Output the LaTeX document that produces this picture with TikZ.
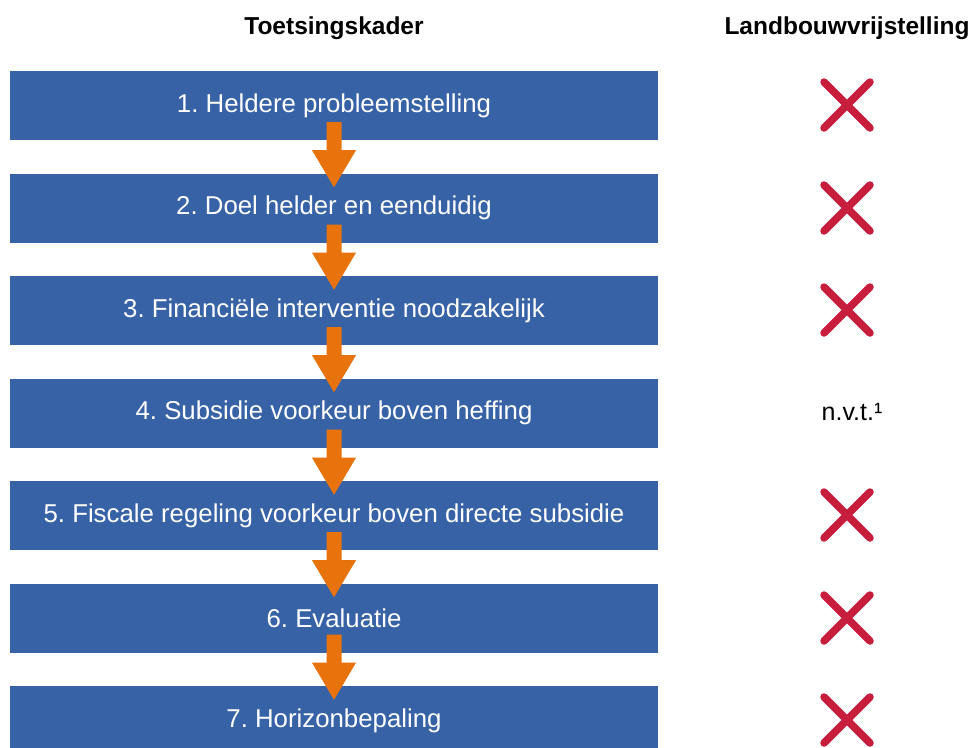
\documentclass[tikz,border=0pt]{standalone}
\usepackage{fontspec}
\setmainfont{Liberation Sans}
\frenchspacing
\definecolor{boxblue}{RGB}{55,99,166}
\definecolor{arroworange}{RGB}{232,114,12}
\definecolor{crossred}{RGB}{200,30,62}
\tikzset{
  stepbox/.style={fill=boxblue, draw=none, minimum width=648pt, minimum height=69pt, inner sep=0pt, text=white, font=\fontsize{25.8}{30}\selectfont},
  flowarrow/.style={fill=arroworange, draw=none},
  header/.style={font=\bfseries\fontsize{24.5}{29}\selectfont},
  crossline/.style={draw=crossred, line width=7.5pt, line cap=round},
  note/.style={font=\fontsize{25}{29}\selectfont}
}
\newcommand{\redcross}[1]{%
  \draw[crossline] ($(#1)+(-23pt,23pt)$) -- ($(#1)+(23pt,-23pt)$);
  \draw[crossline] ($(#1)+(-23pt,-23pt)$) -- ($(#1)+(23pt,23pt)$);}
\usetikzlibrary{calc}
\begin{document}
\begin{tikzpicture}[x=1pt,y=-1pt]
\useasboundingbox (0,0) rectangle (973,747);
\begin{scope}
\clip (0,0) rectangle (973,747);
\node[header] (h1) at (334,28) {Toetsingskader};
\node[header] (h2) at (847,28) {Landbouwvrijstelling};
\node[stepbox] (b1) at (334,105.5) {1. Heldere probleemstelling};
\node[stepbox] (b2) at (334,208) {2. Doel helder en eenduidig};
\node[stepbox] (b3) at (334,310.5) {3. Financiële interventie noodzakelijk};
\node[stepbox] (b4) at (334,413) {4. Subsidie voorkeur boven heffing};
\node[stepbox] (b5) at (334,515.5) {5. Fiscale regeling voorkeur boven directe subsidie};
\node[stepbox] (b6) at (334,618) {6. Evaluatie};
\node[stepbox] (b7) at (334,720.5) {7. Horizonbepaling};
\foreach \a/\b in {b1/b2,b2/b3,b3/b4,b4/b5,b5/b6,b6/b7}{
  \fill[flowarrow] ($(\a.south)+(-7.5pt,18pt)$) -- ($(\a.south)+(7.5pt,18pt)$)
    -- ($(\a.south)+(7.5pt,-10pt)$) -- ($(\a.south)+(22pt,-10pt)$)
    -- ($(\b.north)+(0,-14pt)$) -- ($(\a.south)+(-22pt,-10pt)$)
    -- ($(\a.south)+(-7.5pt,-10pt)$) -- cycle;
}
\coordinate (c1) at (847,105);
\coordinate (c2) at (847,208);
\coordinate (c3) at (847,310);
\coordinate (c5) at (847,515);
\coordinate (c6) at (847,618);
\coordinate (c7) at (847,720);
\foreach \c in {c1,c2,c3,c5,c6,c7}{\redcross{\c}}
\node[note] (n4) at (852,412) {n.v.t.¹};
\end{scope}
\end{tikzpicture}
\end{document}
